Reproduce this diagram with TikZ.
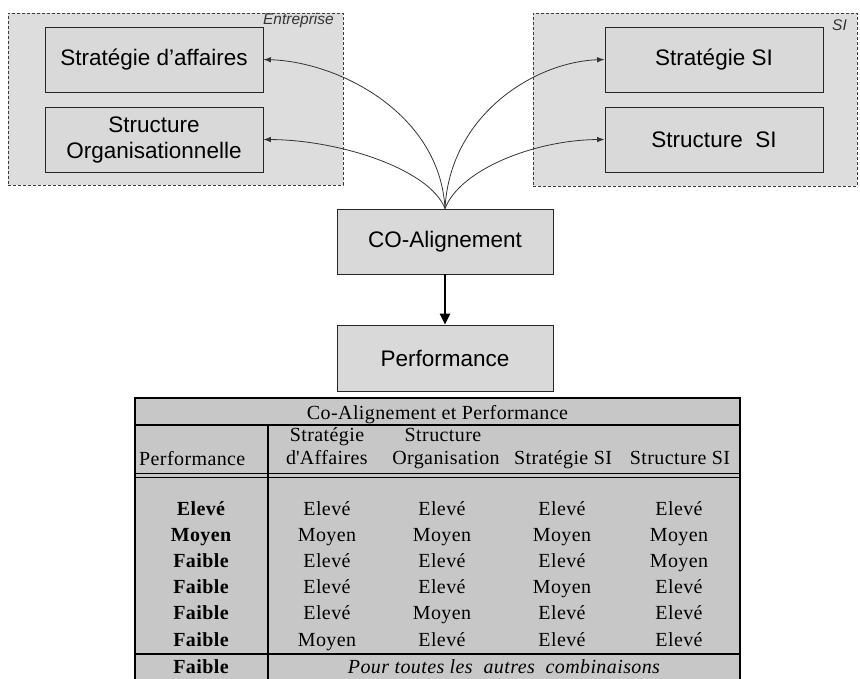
\documentclass[tikz,border=0pt]{standalone}
\usepackage{fontspec}
\setmainfont{Liberation Serif}[LetterSpace=2]
\newfontfamily\arialf{Liberation Sans}
\usetikzlibrary{arrows.meta}

\definecolor{boxgray}{RGB}{217,217,217}
\definecolor{grpgray}{RGB}{221,221,221}
\definecolor{tabgray}{RGB}{199,199,199}
\definecolor{edgegray}{RGB}{60,60,60}

\begin{document}
\begin{tikzpicture}[x=1pt,y=-1pt,
  group/.style={draw=edgegray, dashed, dash pattern=on 3pt off 2pt, fill=grpgray,
    line width=0.8pt, inner sep=0pt},
  grouplabel/.style={font=\arialf\itshape\fontsize{15.5}{17}\selectfont, text=black!80,
    inner sep=0pt, anchor=base east},
  block/.style={draw=black!85, fill=boxgray, line width=0.9pt, align=center,
    minimum width=218pt, minimum height=65pt, inner sep=0pt,
    font=\arialf\fontsize{22.5}{26}\selectfont},
  link/.style={draw=black!80, line width=0.8pt, -{Latex[length=7.5pt,width=5.5pt]}},
  mainarrow/.style={draw=black, line width=2.6pt, -{Triangle[length=11pt,width=10pt]}},
  cell/.style={inner sep=0pt, anchor=base, font=\fontsize{20}{22}\selectfont},
  rule/.style={line width=2pt, draw=black},
  thinrule/.style={line width=1.4pt, draw=black}
]
\useasboundingbox (0,0) rectangle (860,679);

% grouping frames
\node[group, minimum width=335pt, minimum height=172pt] (ent) at (175.5,99) {};
\node[group, minimum width=324pt, minimum height=173pt] (si) at (695,99.5) {};
\node[grouplabel] (entlab) at (334,25) {Entreprise};
\node[grouplabel] (silab) at (847,31) {SI};

% blocks
\node[block] (sda) at (154,59.5) {Stratégie d’affaires};
\node[block] (sorg) at (154,139.5) {Structure\\Organisationnelle};
\node[block] (ssi) at (714,59.5) {Stratégie SI};
\node[block] (stsi) at (714,139.5) {Structure~~SI};
\node[block, minimum width=216pt] (co) at (445,241.5) {CO-Alignement};
\node[block, minimum width=216pt, minimum height=66pt] (perf) at (445,358) {Performance};

% links from the co-alignment block
\draw[link] (co.north) .. controls +(-5,-94) and +(77,2.5) .. (sda.east);
\draw[link] (co.north) .. controls +(-15,-39) and +(77,0.5) .. (sorg.east);
\draw[link] (co.north) .. controls +(5,-94) and +(-70,2.5) .. (ssi.west);
\draw[link] (co.north) .. controls +(15,-39) and +(-70,0.5) .. (stsi.west);
\draw[mainarrow] (co.south) -- (perf.north);

% table
\fill[tabgray] (135,398) rectangle (740,695);
\draw[rule] (135,695) -- (135,398) -- (740,398) -- (740,695);
\draw[rule] (135,425) -- (740,425);
\draw[thinrule] (135,473.5) -- (740,473.5);
\draw[thinrule] (135,477.5) -- (740,477.5);
\draw[rule] (268,425) -- (268,695);
\draw[rule] (135,654) -- (740,654);

\node[cell] (title) at (437.5,419) {Co-Alignement et Performance};
\node[cell, anchor=base west] (hperf) at (139,465) {Performance};
\node[cell] (h1a) at (327,441) {Stratégie};
\node[cell] (h1b) at (327,464) {d\textquotesingle Affaires};
\node[cell] (h2a) at (443,441) {Structure};
\node[cell] (h2b) at (446,464) {Organisation};
\node[cell] (h3) at (563,464) {Stratégie SI};
\node[cell] (h4) at (680,464) {Structure SI};

\foreach \p/\a/\b/\c/\d [count=\i] in {
    Elevé/Elevé/Elevé/Elevé/Elevé,
    Moyen/Moyen/Moyen/Moyen/Moyen,
    Faible/Elevé/Elevé/Elevé/Moyen,
    Faible/Elevé/Elevé/Moyen/Elevé,
    Faible/Elevé/Moyen/Elevé/Elevé,
    Faible/Moyen/Elevé/Elevé/Elevé} {
  \pgfmathsetmacro{\yy}{515+26.2*(\i-1)}
  \node[cell, font=\bfseries\fontsize{20}{22}\selectfont] (r\i c0) at (201,\yy) {\p};
  \node[cell] (r\i c1) at (327,\yy) {\a};
  \node[cell] (r\i c2) at (442,\yy) {\b};
  \node[cell] (r\i c3) at (562,\yy) {\c};
  \node[cell] (r\i c4) at (679,\yy) {\d};
}
\node[cell, font=\bfseries\fontsize{20}{22}\selectfont] (lastp) at (201,673) {Faible};
\node[cell, font=\itshape\fontsize{20}{22}\selectfont] (lastt) at (504,673) {Pour toutes les~ autres~ combinaisons};
\end{tikzpicture}
\end{document}
